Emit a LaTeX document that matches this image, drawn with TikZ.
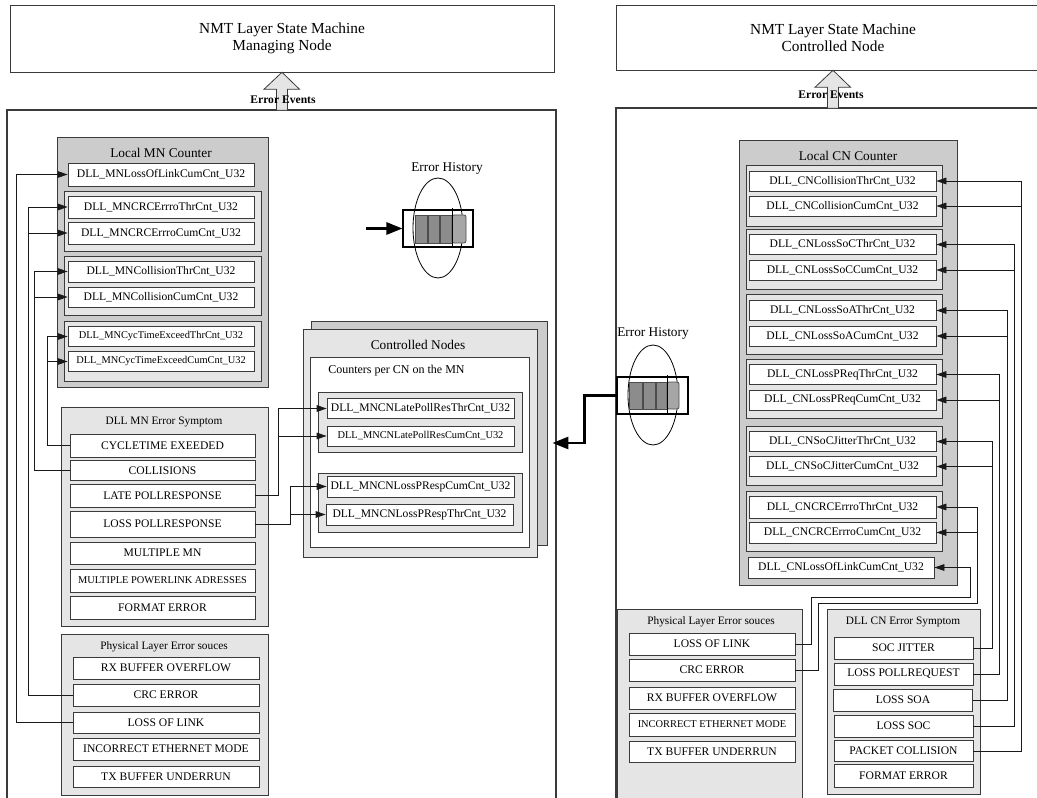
\documentclass[tikz,border=0pt]{standalone}
\usepackage{fontspec}
\setmainfont{Liberation Serif}
\usetikzlibrary{arrows.meta, calc}
\definecolor{boxline}{HTML}{3A3A3A}

\begin{document}
\begin{tikzpicture}[
  x=0.75pt, y=-0.75pt,
  sz/.style 2 args={minimum width=#1*0.75pt, minimum height=#2*0.75pt},
  frame/.style={draw=boxline, line width=0.8pt},
  topbox/.style={draw=boxline, fill=white, align=center, inner sep=0pt,
                 font=\fontsize{11.5}{13}\selectfont},
  outer/.style={draw=boxline, fill=black!20, inner sep=0pt, line width=0.6pt},
  grp/.style={draw=boxline, fill=black!10, inner sep=0pt, line width=0.6pt},
  item/.style={draw=boxline, fill=white, inner sep=0pt, line width=0.6pt,
               font=\fontsize{8.7}{10}\selectfont},
  smalltxt/.style={font=\fontsize{7.8}{9}\selectfont},
  ttl/.style={inner sep=0pt, font=\fontsize{10}{12}\selectfont},
  subttl/.style={inner sep=0pt, font=\fontsize{8.5}{10}\selectfont},
  link/.style={draw=black!90, line width=0.6pt},
  arr/.style={link, -{Triangle[length=7.5pt,width=5pt]}},
  bigarr/.style={line width=2pt, -{Triangle[length=12pt,width=9pt]}},
  evarr/.style={draw=boxline, fill=black!10, line width=0.6pt},
  cell/.style={draw=black!70, fill=black!45, line width=0.6pt},
  hist/.style={draw=black, inner sep=0pt, line width=0.8pt}
]
\useasboundingbox (0,0) rectangle (1037,798);
\clip (0,0) rectangle (1037,798);
\fill[white] (0,0) rectangle (1037,798);

% state machines on top
\node[topbox, sz={544}{67}] (mnNMT) at (282,38.5) {NMT Layer State Machine\\Managing Node};
\node[topbox, sz={434}{65}] (cnNMT) at (833,37.5) {NMT Layer State Machine\\Controlled Node};

% node frames
\draw[frame] (7,110) rectangle (556,840);
\draw[frame] (616,108) rectangle (1060,840);

% error event arrows
\draw[evarr] (mnNMT.south) -- ++(17.5,17) -- ++(-12,0) -- ++(0,21) -- ++(-11,0)
  -- ++(0,-21) -- ++(-12.5,0) -- cycle;
\node[font=\bfseries\fontsize{8.7}{10}\selectfont, inner sep=0pt] (mnEv) at (283,100) {Error Events};
\draw[evarr] (cnNMT.south) -- ++(17.5,17) -- ++(-12,0) -- ++(0,21) -- ++(-11,0)
  -- ++(0,-21) -- ++(-12.5,0) -- cycle;
\node[font=\bfseries\fontsize{8.7}{10}\selectfont, inner sep=0pt] (cnEv) at (831,95) {Error Events};

%% ---------------- managing node ----------------
\node[outer, sz={211}{250}] (mnCnt) at (162.5,262) {};
\node[ttl] at (161,153) {Local MN Counter};
\node[item, sz={186}{23}] (mnLoL) at (161,174.5) {DLL\_MNLossOfLinkCumCnt\_U32};
\node[grp, sz={197}{60}] (mnGrpCrc) at (162.5,221) {};
\node[item, sz={186}{22}] (mnCrcThr) at (161,207) {DLL\_MNCRCErrroThrCnt\_U32};
\node[item, sz={186}{22}] (mnCrcCum) at (161,233) {DLL\_MNCRCErrroCumCnt\_U32};
\node[grp, sz={197}{59}] (mnGrpCol) at (162.5,285.5) {};
\node[item, sz={186}{21}] (mnColThr) at (161,271.5) {DLL\_MNCollisionThrCnt\_U32};
\node[item, sz={186}{20}] (mnColCum) at (161,297) {DLL\_MNCollisionCumCnt\_U32};
\node[grp, sz={197}{60}] (mnGrpCyc) at (162.5,351) {};
\node[item, smalltxt, sz={186}{20}] (mnCycThr) at (161,336.5) {DLL\_MNCycTimeExceedThrCnt\_U32};
\node[item, smalltxt, sz={186}{20}] (mnCycCum) at (161,361.5) {DLL\_MNCycTimeExceedCumCnt\_U32};

\node[grp, sz={207}{219}] (mnSym) at (164.5,516.5) {};
\node[subttl] at (164,422) {DLL MN Error Symptom};
\node[item, sz={185}{23}] (symCyc) at (162.5,445.5) {CYCLETIME EXEEDED};
\node[item, sz={185}{20}] (symCol) at (162.5,470.5) {COLLISIONS};
\node[item, sz={185}{23}] (symLate) at (162.5,495.5) {LATE POLLRESPONSE};
\node[item, sz={185}{26}] (symLoss) at (162.5,524) {LOSS POLLRESPONSE};
\node[item, sz={185}{22}] (symMulMN) at (162.5,553) {MULTIPLE MN};
\node[item, smalltxt, sz={185}{23}] (symMulPL) at (162.5,580.5) {MULTIPLE POWERLINK ADRESSES};
\node[item, sz={185}{23}] (symFmt) at (162.5,607.5) {FORMAT ERROR};

\node[grp, sz={207}{161}] (mnPhy) at (164.5,714.5) {};
\node[subttl] at (164,647) {Physical Layer Error souces};
\node[item, sz={186}{22}] (phyRx) at (166,668) {RX BUFFER OVERFLOW};
\node[item, sz={186}{22}] (phyCrc) at (166,695) {CRC ERROR};
\node[item, sz={186}{21}] (phyLoL) at (166,722.5) {LOSS OF LINK};
\node[item, sz={186}{22}] (phyEth) at (166,749) {INCORRECT ETHERNET MODE};
\node[item, sz={186}{21}] (phyTx) at (166,776.5) {TX BUFFER UNDERRUN};

% controlled nodes on the MN
\node[outer, sz={236}{224}] (ctrlBack) at (429,433) {};
\node[grp, sz={234}{228}] (ctrlFront) at (420,443) {};
\node[ttl] at (418,345) {Controlled Nodes};
\node[item, sz={219}{190}] (ctrlIn) at (419.5,452) {};
\node[anchor=west, inner sep=0pt, font=\fontsize{9}{11}\selectfont] at (328,371) {Counters per CN on the MN};
\node[grp, sz={204}{60}] (grpLate) at (420,422) {};
\node[item, sz={187}{20}] (cnLateThr) at (420.5,408.5) {DLL\_MNCNLatePollResThrCnt\_U32};
\node[item, smalltxt, sz={187}{20}] (cnLateCum) at (420.5,436) {DLL\_MNCNLatePollResCumCnt\_U32};
\node[grp, sz={204}{59}] (grpLoss) at (420,502.5) {};
\node[item, sz={187}{21}] (cnLossCum) at (420.5,486.5) {DLL\_MNCNLossPRespCumCnt\_U32};
\node[item, sz={187}{21}] (cnLossThr) at (419.5,514.5) {DLL\_MNCNLossPRespThrCnt\_U32};

% error history (MN)
\node[inner sep=0pt, font=\fontsize{10}{12}\selectfont] at (447,169) {Error History};
\draw[line width=0.6pt] (438,228) ellipse [x radius=18.75pt, y radius=37.5pt];
\node[hist, sz={70}{37}] (mnHist) at (438,228.5) {};
\draw[cell] (415,215) rectangle (427,243);
\draw[cell] (428,215) rectangle (439,243);
\draw[cell] (440,215) rectangle (452,243);
\draw[cell, fill=black!35, rounded corners=1.5pt] (452,215) rectangle (466,243);
\draw[line width=0.6pt] (452,208) -- (452,247);
\coordinate (histIn) at (366,228.5);
\draw[bigarr] (histIn) -- (mnHist.west);

%% ---------------- controlled node ----------------
\node[outer, sz={218}{445}] (cnCnt) at (848,362.5) {};
\node[ttl] at (848,156) {Local CN Counter};
\node[grp, sz={196}{61}] at (844,195.5) {};
\node[grp, sz={196}{60}] at (844,259) {};
\node[grp, sz={196}{60}] at (844,324) {};
\node[grp, sz={196}{59}] at (844,388.5) {};
\node[grp, sz={196}{59}] at (844,455.5) {};
\node[grp, sz={196}{60}] at (844,521) {};
\node[item, sz={187}{20}] (colThr) at (842.5,181) {DLL\_CNCollisionThrCnt\_U32};
\node[item, sz={187}{20}] (colCum) at (842.5,206) {DLL\_CNCollisionCumCnt\_U32};
\node[item, sz={187}{20}] (socThr) at (842.5,244.5) {DLL\_CNLossSoCThrCnt\_U32};
\node[item, sz={187}{20}] (socCum) at (842.5,270) {DLL\_CNLossSoCCumCnt\_U32};
\node[item, sz={187}{20}] (soaThr) at (842.5,310.5) {DLL\_CNLossSoAThrCnt\_U32};
\node[item, sz={187}{20}] (soaCum) at (842.5,336) {DLL\_CNLossSoACumCnt\_U32};
\node[item, sz={187}{20}] (preqThr) at (842.5,374.5) {DLL\_CNLossPReqThrCnt\_U32};
\node[item, sz={187}{20}] (preqCum) at (842.5,400) {DLL\_CNLossPReqCumCnt\_U32};
\node[item, sz={187}{20}] (jitThr) at (842.5,441.5) {DLL\_CNSoCJitterThrCnt\_U32};
\node[item, sz={187}{20}] (jitCum) at (842.5,466.5) {DLL\_CNSoCJitterCumCnt\_U32};
\node[item, sz={187}{22}] (crcThr) at (842.5,507) {DLL\_CNCRCErrroThrCnt\_U32};
\node[item, sz={187}{21}] (crcCum) at (842.5,532.5) {DLL\_CNCRCErrroCumCnt\_U32};
\node[item, sz={186}{21}] (lolCum) at (841,567.5) {DLL\_CNLossOfLinkCumCnt\_U32};

\node[grp, sz={185}{221}] (cnPhy) at (709.5,719.5) {};
\node[subttl] at (711,622) {Physical Layer Error souces};
\node[item, sz={166}{22}] (cphyLoL) at (712,644) {LOSS OF LINK};
\node[item, sz={166}{22}] (cphyCrc) at (712,670) {CRC ERROR};
\node[item, sz={166}{22}] (cphyRx) at (712,698) {RX BUFFER OVERFLOW};
\node[item, smalltxt, sz={166}{23}] (cphyEth) at (712,724.5) {INCORRECT ETHERNET MODE};
\node[item, sz={166}{21}] (cphyTx) at (712,751.5) {TX BUFFER UNDERRUN};

\node[grp, sz={153}{185}] (cnSym) at (903.5,701.5) {};
\node[subttl] at (903,622) {DLL CN Error Symptom};
\node[item, sz={139}{22}] (symJit) at (903.5,648) {SOC JITTER};
\node[item, sz={139}{22}] (symPreq) at (903.5,674) {LOSS POLLREQUEST};
\node[item, sz={139}{22}] (symSoa) at (903,700) {LOSS SOA};
\node[item, sz={139}{22}] (symSoc) at (903.5,726) {LOSS SOC};
\node[item, sz={139}{21}] (symPcol) at (903.5,751) {PACKET COLLISION};
\node[item, sz={139}{23}] (symFmt2) at (903.5,775.5) {FORMAT ERROR};

% error history (CN)
\node[inner sep=0pt, font=\fontsize{10}{12}\selectfont] at (653,334) {Error History};
\draw[line width=0.6pt] (653,395) ellipse [x radius=18.75pt, y radius=37.5pt];
\node[hist, sz={71}{37}] (cnHist) at (652.5,395.5) {};
\draw[cell] (629,382) rectangle (642,409);
\draw[cell] (643,382) rectangle (655,409);
\draw[cell] (656,382) rectangle (667,409);
\draw[cell, fill=black!35, rounded corners=1.5pt] (667,382) rectangle (679,409);
\draw[line width=0.6pt] (667,375) -- (667,414);

%% ---------------- connectors ----------------
\draw[arr] (symCyc.west) -- ++(-22,0) |- (mnCycThr.west);
\draw[arr] (symCyc.west) -- ++(-22,0) |- (mnCycCum.west);
\draw[arr] (symCol.west) -- ++(-35,0) |- (mnColThr.west);
\draw[arr] (symCol.west) -- ++(-35,0) |- (mnColCum.west);
\draw[arr] (phyCrc.west) -- ++(-44,0) |- (mnCrcThr.west);
\draw[arr] (phyCrc.west) -- ++(-44,0) |- (mnCrcCum.west);
\draw[arr] (phyLoL.west) -- ++(-56,0) |- (mnLoL.west);

\draw[arr] (symLate.east) -- ++(23,0) |- (cnLateThr.west);
\draw[arr] (symLate.east) -- ++(23,0) |- (cnLateCum.west);
\draw[arr] (symLoss.east) -- ++(35,0) |- (cnLossCum.west);
\draw[arr] (symLoss.east) -- ++(35,0) |- (cnLossThr.west);

\draw[arr] (symJit.east) -- ++(19,0) |- (jitThr.east);
\draw[arr] (symJit.east) -- ++(19,0) |- (jitCum.east);
\draw[arr] (symPreq.east) -- ++(26,0) |- (preqThr.east);
\draw[arr] (symPreq.east) -- ++(26,0) |- (preqCum.east);
\draw[arr] (symSoa.east) -- ++(34,0) |- (soaThr.east);
\draw[arr] (symSoa.east) -- ++(34,0) |- (soaCum.east);
\draw[arr] (symSoc.east) -- ++(41,0) |- (socThr.east);
\draw[arr] (symSoc.east) -- ++(41,0) |- (socCum.east);
\draw[arr] (symPcol.east) -- ++(48,0) |- (colThr.east);
\draw[arr] (symPcol.east) -- ++(48,0) |- (colCum.east);
\draw[arr] (cphyLoL.east) -- ++(16,0) |- (970,597) |- (lolCum.east);
\draw[arr] (cphyCrc.east) -- ++(23,0) |- (977,603) |- (crcThr.east);
\draw[arr] (cphyCrc.east) -- ++(23,0) |- (977,603) |- (crcCum.east);

% history of the CN towards the controlled nodes list
\draw[bigarr] (cnHist.west) -- ++(-32,0) |- ([xshift=11.25pt]ctrlFront.east);
\end{tikzpicture}
\end{document}
